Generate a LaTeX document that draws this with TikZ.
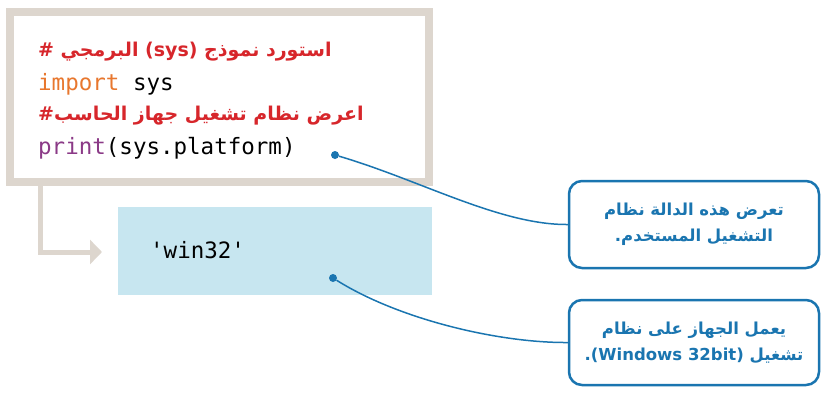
\documentclass[tikz,border=0pt]{standalone}
\usepackage{fontspec}
\setmonofont{DejaVu Sans Mono}
\newfontfamily\arabicfont[Script=Arabic]{DejaVu Sans}
\TeXXeTstate=1
\usetikzlibrary{arrows.meta}
\definecolor{framegray}{HTML}{DDD6CE}
\definecolor{cmtred}{HTML}{D7262B}
\definecolor{kworange}{HTML}{E8772E}
\definecolor{fnpurple}{HTML}{8B3A87}
\definecolor{callblue}{HTML}{1A75B0}
\definecolor{outblue}{HTML}{C7E6F0}
\begin{document}
\begin{tikzpicture}
            [x=1pt, y=-1pt,
            codeline/.style={anchor=west, inner sep=0pt, font=\ttfamily\fontsize{22.5}{26}\selectfont},
            comment/.style={anchor=west, inner sep=0pt, text=cmtred, font=\arabicfont\bfseries\fontsize{19}{24}\selectfont},
            callout/.style={draw=callblue, line width=2.5pt, rounded corners=13pt, fill=white,
              text=callblue, align=center, font=\arabicfont\bfseries\fontsize{16.5}{26}\selectfont},
            leader/.style={callblue, line width=1.5pt},
            dot/.style={circle, fill=callblue, inner sep=0pt, minimum size=8pt}]

            \useasboundingbox (0,0) rectangle (831,400);

            % code frame and output box
            \draw[framegray, line width=8pt, fill=white] (10,12) rectangle (429,182);
            \fill[outblue] (118,207) rectangle (432,295);
            \draw[framegray, line width=5pt, -{Triangle[length=12pt, width=24pt]}]
              (40,186) |- (102,252);

            % code lines
            \node[comment] (l1) at (38,52) {\beginR استورد نموذج \beginL(sys)\endL{} البرمجي \#\endR};
            \node[codeline] (l2) at (38,84) {\textcolor{kworange}{import} sys};
            \node[comment] (l3) at (38,116) {\beginR اعرض نظام تشغيل جهاز الحاسب\#\endR};
            \node[codeline] (l4) at (38,148) {\textcolor{fnpurple}{print}(sys.platform)};
            \node[codeline] (out) at (150,250) {'win32'};

            % callouts
            \node[callout, minimum width=250pt, minimum height=87pt] (c1) at (694,224.5)
              {\beginR تعرض هذه الدالة نظام\endR\\\beginR التشغيل المستخدم.\endR};
            \node[callout, minimum width=250pt, minimum height=85pt] (c2) at (694,342.5)
              {\beginR يعمل الجهاز على نظام\endR\\\beginR تشغيل \beginL(Windows 32bit)\endL.\endR};

            \node[dot] (d1) at (335,155) {};
            \node[dot] (d2) at (333,278) {};
            \draw[leader] (d1) .. controls (420,180) and (500,225) .. (c1.west);
            \draw[leader] (d2) .. controls (400,320) and (500,343) .. (c2.west);
\end{tikzpicture}
\end{document}
